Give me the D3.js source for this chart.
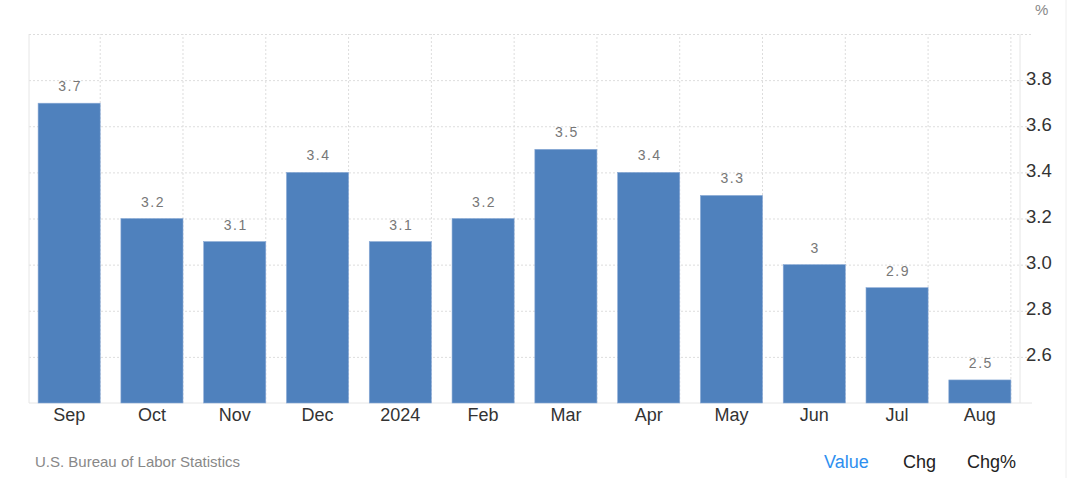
<!DOCTYPE html>
<html>
<head>
<meta charset="utf-8">
<script src="https://d3js.org/d3.v7.min.js"></script>
<style>
  body { margin: 0; background: #fff; font-family: "Liberation Sans", Arial, sans-serif; }
  .grid line { stroke: #ddd; stroke-dasharray: 2,2; }
  .grid .domain { stroke: none; }
</style>
</head>
<body>
<svg id="chart" width="1073" height="478"></svg>
<script>
const months = ['Sep', 'Oct', 'Nov', 'Dec', '2024', 'Feb', 'Mar', 'Apr', 'May', 'Jun', 'Jul', 'Aug'];
const values = [3.7, 3.2, 3.1, 3.4, 3.1, 3.2, 3.5, 3.4, 3.3, 3.0, 2.9, 2.5];
const valueLabels = ['3.7', '3.2', '3.1', '3.4', '3.1', '3.2', '3.5', '3.4', '3.3', '3', '2.9', '2.5'];
const yTicks = [2.6, 2.8, 3.0, 3.2, 3.4, 3.6, 3.8];
const gridTicks = [2.6, 2.8, 3.0, 3.2, 3.4, 3.6, 3.8, 4.0];

const svg = d3.select('svg#chart');
const plotLeft = 29, plotRight = 1020, plotTop = 34, plotBottom = 403;

const x = d3.scaleBand().domain(months).range([plotLeft, plotRight])
            .paddingInner(0.25).paddingOuter(0.11);
const y = d3.scaleLinear().domain([2.4, 4.0]).range([plotBottom, plotTop]);

// outer border on the right
svg.append('line').attr('x1', 1066).attr('x2', 1066).attr('y1', 0).attr('y2', 478)
   .attr('stroke', '#eee');

// horizontal gridlines
svg.append('g').attr('class', 'grid')
   .attr('transform', `translate(${plotLeft},0)`)
   .call(d3.axisLeft(y).tickValues(gridTicks).tickSize(-(plotRight - plotLeft + 12)).tickFormat(''));

// vertical gridlines at band centers
svg.append('g').attr('class', 'grid')
   .attr('transform', `translate(${x.bandwidth() / 2},${plotBottom})`)
   .call(d3.axisBottom(x).tickSize(-(plotBottom - plotTop)).tickFormat(''));

// frame lines
svg.append('line').attr('x1', plotLeft).attr('x2', plotLeft).attr('y1', plotTop).attr('y2', plotBottom).attr('stroke', '#e6e6e6');
svg.append('line').attr('x1', plotRight).attr('x2', plotRight).attr('y1', plotTop).attr('y2', plotBottom).attr('stroke', '#e6e6e6');
svg.append('line').attr('x1', plotLeft).attr('x2', plotRight + 12).attr('y1', plotBottom).attr('y2', plotBottom).attr('stroke', '#e6e6e6');

// bars
svg.append('g').selectAll('rect')
   .data(values)
   .join('rect')
   .attr('x', (d, i) => x(months[i]))
   .attr('y', d => y(d))
   .attr('width', x.bandwidth())
   .attr('height', d => plotBottom - y(d))
   .attr('fill', '#4f81bd')
   .attr('stroke', '#8aaad6')
   .attr('stroke-width', 0.6);

// value labels
svg.append('g').selectAll('text')
   .data(values)
   .join('text')
   .attr('x', (d, i) => x(months[i]) + x.bandwidth() / 2 + 1)
   .attr('y', d => y(d) - 12)
   .attr('text-anchor', 'middle')
   .attr('font-size', 14)
   .attr('letter-spacing', 1.5)
   .attr('fill', '#777')
   .text((d, i) => valueLabels[i]);

// x axis labels
svg.append('g')
   .attr('transform', `translate(0,${plotBottom})`)
   .call(d3.axisBottom(x).tickSize(0).tickPadding(5))
   .call(g => g.select('.domain').remove())
   .call(g => g.selectAll('text').attr('font-size', 18).attr('fill', '#333')
                .attr('font-family', '"Liberation Sans", Arial, sans-serif'));

// y axis labels
svg.append('g')
   .attr('transform', `translate(${plotRight},0)`)
   .call(d3.axisRight(y).tickValues(yTicks).tickSize(0).tickPadding(6).tickFormat(d3.format('.1f')))
   .call(g => g.select('.domain').remove())
   .call(g => g.selectAll('text').attr('font-size', 18.5).attr('fill', '#333').attr('dy', '0.22em')
                .attr('font-family', '"Liberation Sans", Arial, sans-serif'));

svg.append('text').attr('x', 1035).attr('y', 15).attr('font-size', 15).attr('fill', '#888').text('%');

// footer
svg.append('text').attr('x', 35).attr('y', 467).attr('font-size', 15).attr('fill', '#888')
   .text('U.S. Bureau of Labor Statistics');
svg.append('text').attr('x', 824).attr('y', 468).attr('font-size', 18).attr('fill', '#2e8ff0').text('Value');
svg.append('text').attr('x', 903).attr('y', 468).attr('font-size', 18).attr('fill', '#222').text('Chg');
svg.append('text').attr('x', 967).attr('y', 468).attr('font-size', 18).attr('fill', '#222').text('Chg%');
</script>
</body>
</html>
